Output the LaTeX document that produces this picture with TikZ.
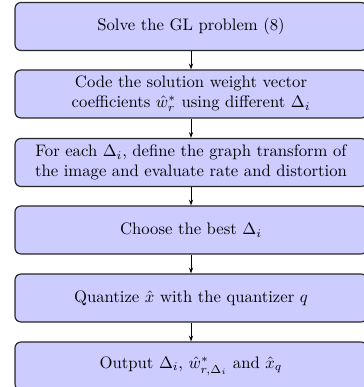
\documentclass[tikz,border=0pt]{standalone}
\usetikzlibrary{arrows.meta}
\begin{document}
\begin{tikzpicture}[x=0.6pt,y=-0.6pt,
  stepbox/.style={draw=black!85, line width=0.7pt, fill=blue!20, rounded corners=3.6pt,
    minimum width=211.2pt, minimum height=28.8pt, align=center, inner sep=2pt},
  flow/.style={-{Stealth[length=3.5pt,width=2.5pt]}, line width=0.5pt}]
\useasboundingbox (0,0) rectangle (363,387);
\node[stepbox] (b1) at (191,26.5) {Solve the GL problem (8)};
\node[stepbox] (b2) at (191,94) {Code the solution weight vector\\coefficients $\hat{w}_r^*$ using different $\Delta_i$};
\node[stepbox] (b3) at (191,162.5) {For each $\Delta_i$, define the graph transform of\\the image and evaluate rate and distortion};
\node[stepbox] (b4) at (191,230) {Choose the best $\Delta_i$};
\node[stepbox] (b5) at (191,298) {Quantize $\hat{x}$ with the quantizer $q$};
\node[stepbox] (b6) at (191,366) {Output $\Delta_i$, $\hat{w}^*_{r,\Delta_i}$ and $\hat{x}_q$};
\draw[flow] (b1) -- (b2);
\draw[flow] (b2) -- (b3);
\draw[flow] (b3) -- (b4);
\draw[flow] (b4) -- (b5);
\draw[flow] (b5) -- (b6);
\end{tikzpicture}
\end{document}
